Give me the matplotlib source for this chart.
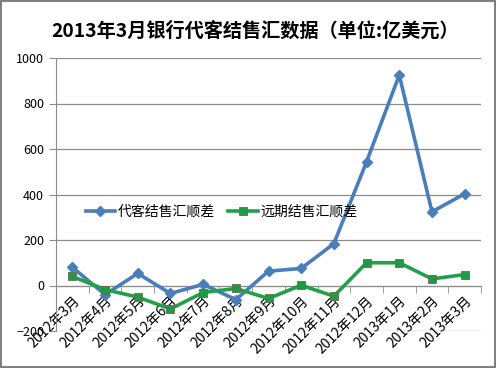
import matplotlib.pyplot as plt
import numpy as np

plt.rcParams['font.family'] = ['Noto Sans CJK SC', 'DejaVu Sans']

# Data
months = ['2012年3月', '2012年4月', '2012年5月', '2012年6月', '2012年7月', '2012年8月',
          '2012年9月', '2012年10月', '2012年11月', '2012年12月', '2013年1月',
          '2013年2月', '2013年3月']
spot_surplus = [80, -40, 53, -35, 5, -62, 63, 75, 184, 544, 925, 324, 403]
forward_surplus = [40, -18, -51, -103, -31, -13, -57, 1, -47, 100, 100, 29, 48]
yticks = [-200, 0, 200, 400, 600, 800, 1000]

title = '2013年3月银行代客结售汇数据（单位:亿美元）'
spot_label = '代客结售汇顺差'
fwd_label = '远期结售汇顺差'

fig = plt.figure(figsize=(4.96, 3.68), dpi=100, edgecolor='#808080', linewidth=1.5)
ax = fig.add_axes([56 / 496, 1 - 331 / 368, 425 / 496, 273 / 368])

x = np.arange(len(months))
ax.plot(x, spot_surplus, color='#4A7EBB', linewidth=2.6, marker='D', markersize=5.5,
        markerfacecolor='#4A7EBB', markeredgecolor='#4A7EBB', label=spot_label, zorder=3)
ax.plot(x, forward_surplus, color='#21A04A', linewidth=2.6, marker='s', markersize=6,
        markerfacecolor='#1E9A48', markeredgecolor='#6B6B4B', markeredgewidth=0.6,
        label=fwd_label, zorder=4)

ax.set_xlim(-0.5, len(months) - 0.5)
ax.set_ylim(-200, 1000)
ax.set_yticks(yticks)
ax.yaxis.grid(True, color='#8C8C8C', linewidth=0.9)
ax.set_axisbelow(True)

for s in ['top', 'right']:
    ax.spines[s].set_visible(False)
ax.spines['left'].set_color('#8C8C8C')
ax.spines['bottom'].set_color('#8C8C8C')
ax.spines['bottom'].set_position(('data', 0))

ax.set_xticks(x)
ax.set_xticklabels(months, rotation=45, ha='right', rotation_mode='anchor', fontsize=10)
ax.set_xticks(np.arange(-0.5, len(months), 1), minor=True)
ax.tick_params(axis='x', which='major', length=0, pad=6)
ax.tick_params(axis='x', which='minor', length=5, color='#8C8C8C')
ax.tick_params(axis='y', length=5, color='#8C8C8C', labelsize=9)

ax.legend(loc='center left', bbox_to_anchor=(0.04, 0.436), ncol=2, frameon=False,
          fontsize=10, handlelength=2.1, columnspacing=1.0, handletextpad=0.2)

fig.text(0.515, 0.915, title, ha='center', va='center', fontsize=13.8, fontweight='bold')

fig.savefig('out.png', dpi=100)
